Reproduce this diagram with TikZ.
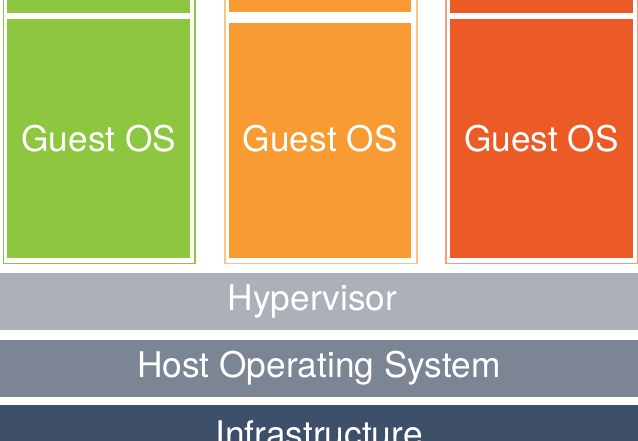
\documentclass[tikz,border=0pt]{standalone}
\usepackage{fontspec}
\setmainfont{TeX Gyre Heros}
\usepackage{tikz}
\usetikzlibrary{positioning}
\definecolor{guestgreen}{HTML}{8DC63F}
\definecolor{guestorange}{HTML}{F99B33}
\definecolor{guestred}{HTML}{EC5B26}
\definecolor{hypergrey}{HTML}{ACB1B9}
\definecolor{hostgrey}{HTML}{7C8594}
\definecolor{infrablue}{HTML}{3E5069}

\begin{document}
\begin{tikzpicture}[x=1pt, y=-1pt, box/.style = {rectangle, inner sep=0pt, anchor=north west, text=white, font=\fontsize{35.3}{40}\selectfont}, vmframe/.style = {rectangle, draw=#1, line width=1.5pt, inner sep=0pt, anchor=north west}, layer/.style = {box, anchor=north, minimum width=638pt, minimum height=57pt}]
      \useasboundingbox (0,0) rectangle (638,441);

      % outer frames of the three guests
      \node[vmframe=guestgreen, minimum width=191.5pt, minimum height=293pt] (framea) at (2.5,-30) {};
      \node[vmframe=guestorange!60, minimum width=192pt, minimum height=293pt] (frameb) at (224,-30) {};
      \node[vmframe=guestred!60, minimum width=191.5pt, minimum height=293pt] (framec) at (445,-30) {};

      % blocks on top of each guest
      \node[box, fill=guestgreen, minimum width=183pt, minimum height=43pt] (topa) at (7,-30) {};
      \node[box, fill=guestorange, minimum width=182pt, minimum height=42pt] (topb) at (229,-30) {};
      \node[box, fill=guestred, minimum width=182.5pt, minimum height=43pt] (topc) at (450,-30) {};

      \node[box, fill=guestgreen, minimum width=183pt, minimum height=239pt] (guesta) at (7,19) {Guest OS};
      \node[box, fill=guestorange, minimum width=182pt, minimum height=235.3pt] (guestb) at (229,22.7) {\raisebox{3.7pt}{Guest OS}};
      \node[box, fill=guestred, minimum width=182.5pt, minimum height=239pt] (guestc) at (450,19) {Guest OS};

      % layers below
      \node[layer, fill=hypergrey] (hyper) at (319,273) {\hspace*{-13pt}Hypervisor};
      \node[layer, fill=hostgrey, below=9pt of hyper] (hostos) {Host Operating System};
      \node[layer, fill=infrablue, below=8pt of hostos] (infra) {Infrastructure};

      \end{tikzpicture}
\end{document}
